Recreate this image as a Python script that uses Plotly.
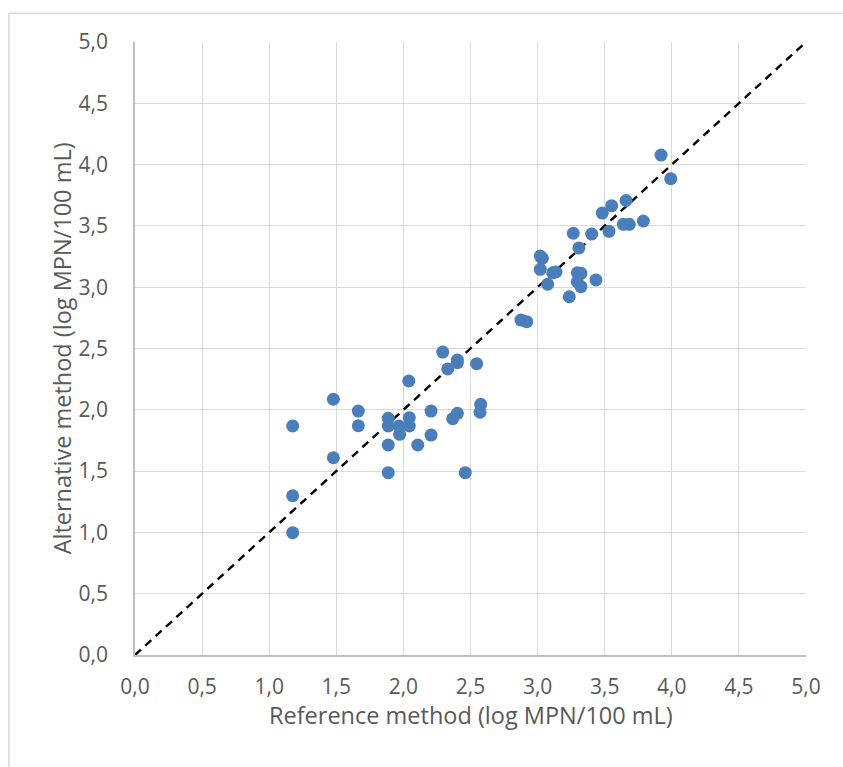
import plotly.graph_objects as go

# Reference method vs alternative method, log MPN/100 mL
reference = [
    1.175, 1.175, 1.175, 1.478, 1.478, 1.664, 1.664, 1.887, 1.887, 1.887,
    1.887, 1.967, 1.972, 2.040, 2.044, 2.044, 2.107, 2.206, 2.206, 2.293,
    2.330, 2.402, 2.402, 2.546, 2.367, 2.402, 2.461, 2.576, 2.571,
    2.876, 2.919, 3.020, 3.035, 3.020, 3.075, 3.113, 3.137, 3.236, 3.266,
    3.308, 3.296, 3.323, 3.296, 3.323, 3.403, 3.435, 3.482, 3.552, 3.532,
    3.659, 3.639, 3.683, 3.788, 3.920, 3.992,
]
alternative = [
    1.868, 1.299, 0.998, 2.086, 1.609, 1.990, 1.870, 1.931, 1.868, 1.713,
    1.487, 1.868, 1.800, 2.235, 1.936, 1.868, 1.713, 1.990, 1.794, 2.471,
    2.333, 2.406, 2.384, 2.376, 1.927, 1.971, 1.487, 2.045, 1.980,
    2.732, 2.719, 3.254, 3.236, 3.146, 3.024, 3.118, 3.124, 2.922, 3.440,
    3.320, 3.118, 3.113, 3.045, 3.004, 3.434, 3.059, 3.605, 3.665, 3.456,
    3.707, 3.513, 3.513, 3.540, 4.078, 3.885,
]
identity_line = [0.0, 5.0]
tick_values = [0.0, 0.5, 1.0, 1.5, 2.0, 2.5, 3.0, 3.5, 4.0, 4.5, 5.0]

FONT = "Open Sans"
TEXT_COLOR = "#595959"

fig = go.Figure()
fig.add_trace(go.Scatter(
    x=identity_line, y=identity_line, mode="lines",
    line=dict(color="black", width=2.4, dash="8px,6px"),
    hoverinfo="skip", showlegend=False,
))
fig.add_trace(go.Scatter(
    x=reference, y=alternative, mode="markers",
    marker=dict(color="#4a7ebb", size=13, line=dict(width=0)),
    showlegend=False,
))

axis_common = dict(
    range=[0, 5], tickvals=tick_values, tickformat=".1f",
    showgrid=True, gridcolor="#d9d9d9", gridwidth=1.3,
    showline=True, linecolor="#bfbfbf", linewidth=1.5,
    zeroline=False, ticks="",
    tickfont=dict(family=FONT, size=21, color=TEXT_COLOR),
)

fig.update_layout(
    width=843, height=767,
    margin=dict(l=135, r=37, t=42, b=112),
    paper_bgcolor="white", plot_bgcolor="white",
    separators=",.",
    xaxis=dict(**axis_common, ticklabelstandoff=12),
    yaxis=dict(**axis_common, ticklabelstandoff=21),
    annotations=[
        dict(text="Reference method (log MPN/100 mL)", xref="paper", yref="paper",
             x=0.5, y=-0.098, yanchor="middle", showarrow=False,
             font=dict(family=FONT, size=23.5, color=TEXT_COLOR)),
        dict(text="Alternative method (log MPN/100 mL)", xref="paper", yref="paper",
             x=-0.109, y=0.5, xanchor="center", yanchor="middle",
             textangle=-90, showarrow=False,
             font=dict(family=FONT, size=23.5, color=TEXT_COLOR)),
    ],
    shapes=[
        dict(type="line", xref="paper", yref="paper", x0=-0.188, x1=1.06, y0=1.047, y1=1.047,
             line=dict(color="#d9d9d9", width=1.5)),
        dict(type="line", xref="paper", yref="paper", x0=-0.188, x1=-0.188, y0=1.047, y1=-0.2,
             line=dict(color="#d9d9d9", width=1.5)),
    ],
)

fig.write_html("out.html")
